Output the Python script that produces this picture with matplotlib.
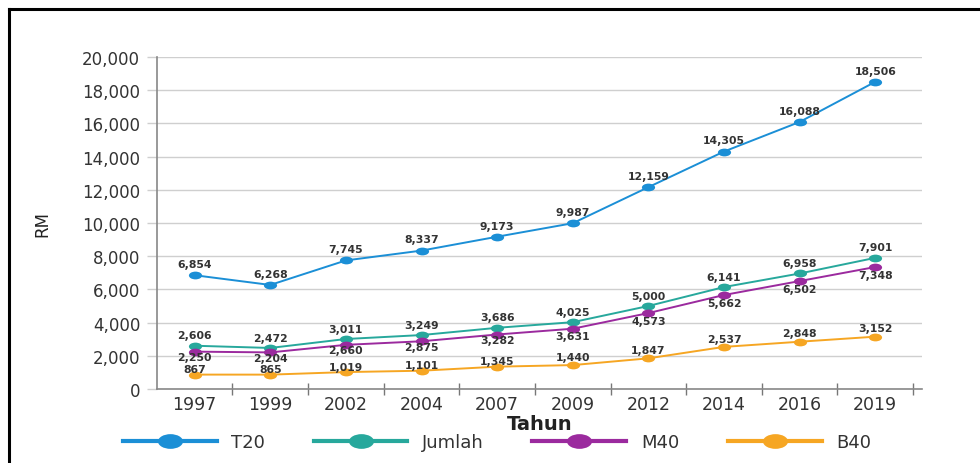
import matplotlib
matplotlib.use("Agg")
import matplotlib.pyplot as plt
from matplotlib.lines import Line2D
from matplotlib.path import Path
from matplotlib.transforms import Affine2D
from matplotlib.ticker import FuncFormatter, FixedLocator
import numpy as np

# Data
years = ["1997", "1999", "2002", "2004", "2007", "2009", "2012", "2014", "2016", "2019"]
t20 = [6854, 6268, 7745, 8337, 9173, 9987, 12159, 14305, 16088, 18506]
jumlah = [2606, 2472, 3011, 3249, 3686, 4025, 5000, 6141, 6958, 7901]
m40 = [2250, 2204, 2660, 2875, 3282, 3631, 4573, 5662, 6502, 7348]
b40 = [867, 865, 1019, 1101, 1345, 1440, 1847, 2537, 2848, 3152]

series_names = ["T20", "Jumlah", "M40", "B40"]
colors = ["#1b8fd6", "#27a89c", "#9b2a9e", "#f6a623"]

plt.rcParams['font.family'] = ['DejaVu Sans']

# flattened circle, the reference markers look squashed
ellipse = Path.unit_circle().transformed(Affine2D().scale(1.7, 1.0))

fig = plt.figure(figsize=(9.8, 4.64), dpi=100)
ax = fig.add_axes([0.160, 0.1595, 0.781, 0.7155])

x = np.arange(len(years))
all_vals = [t20, jumlah, m40, b40]
for k, (vals, col) in enumerate(zip(all_vals, colors)):
    ax.plot(x, vals, color=col, lw=1.4, marker=ellipse, markersize=9.5,
            markeredgewidth=0, zorder=3)
    for i, v in enumerate(vals):
        # M40 labels go under the point, others above;
        # squeeze M40/B40 labels where the two lines run close together
        tight = (m40[i] - b40[i]) < 2000
        if k == 0:
            off = 8
        elif k == 1:
            off = 7.5
        elif k == 2:
            off = -3.8 if tight else -5.5
        else:
            off = 3.8 if tight else 6
        ax.annotate(f"{v:,}", (x[i], v), xytext=(0, off), textcoords='offset points',
                    ha='center', va='center', fontsize=7.8, fontweight='bold',
                    color='#333333', zorder=4)

ax.set_xlim(-0.5, 9.62)
ax.set_ylim(0, 20000)
ax.set_yticks(np.arange(0, 20001, 2000))
ax.yaxis.set_major_formatter(FuncFormatter(lambda v, p: f"{int(v):,}"))
ax.set_xticks(x)
ax.set_xticklabels(years)
ax.xaxis.set_minor_locator(FixedLocator(np.arange(0.5, 10, 1.0)))

ax.grid(axis='y', color='#cfcfcf', lw=1.0, zorder=0)
ax.tick_params(axis='y', length=7, color='#cfcfcf', width=1.0, labelsize=12,
               labelcolor='#333333', pad=5)
ax.tick_params(axis='x', which='major', length=0, labelsize=12.5,
               labelcolor='#333333', pad=4)
ax.tick_params(axis='x', which='minor', length=8, direction='inout',
               color='#777777', width=1.0)

for side in ['top', 'right']:
    ax.spines[side].set_visible(False)
ax.spines['left'].set_color('#888888')
ax.spines['bottom'].set_color('#888888')
ax.spines['left'].set_linewidth(1.2)
ax.spines['bottom'].set_linewidth(1.2)

ax.set_ylabel("RM", fontsize=12, color='#222222', labelpad=22)
ax.set_xlabel("Tahun", fontsize=14, fontweight='bold', color='#222222', labelpad=1)

handles = [Line2D([0], [0], color=c, lw=3, marker=ellipse, markersize=18,
                  markeredgewidth=0) for c in colors]
fig.legend(handles, series_names, loc='center', bbox_to_anchor=(0.507, 0.045),
           ncol=4, frameon=False, fontsize=13, handlelength=5.2,
           columnspacing=2.7, handletextpad=0.8, labelcolor='#333333')

# black frame on left and top edges
fig.add_artist(Line2D([0.009, 0.009], [0, 0.978], color='black', lw=2.2,
                      transform=fig.transFigure))
fig.add_artist(Line2D([0.009, 1.0], [0.978, 0.978], color='black', lw=2.2,
                      transform=fig.transFigure))

fig.savefig("out.png", dpi=100)
